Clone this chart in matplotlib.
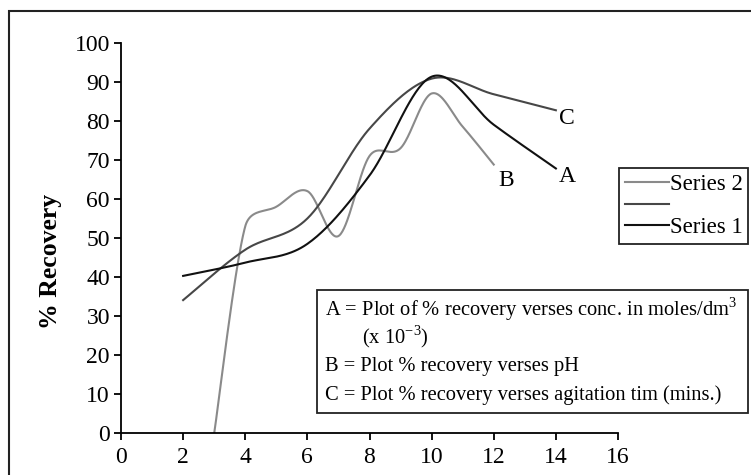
import numpy as np
import matplotlib
matplotlib.use('Agg')
import matplotlib.pyplot as plt
from matplotlib.patches import Rectangle

plt.rcParams['font.family'] = ['Liberation Serif', 'DejaVu Serif']
plt.rcParams['mathtext.fontset'] = 'custom'
plt.rcParams['mathtext.rm'] = 'Liberation Serif'

# data
x_a = [2, 4, 6, 8, 10, 12, 14]
rec_a = [40.3, 43.7, 48.5, 66, 91.3, 79, 67.8]      # A: conc.
x_c = [2, 4, 6, 8, 10, 12, 14]
rec_c = [34.1, 47, 55, 78, 90.8, 86.8, 82.7]        # C: agitation time
x_b = [3, 4, 5, 6, 7, 8, 9, 10, 11, 12]
rec_b = [0, 53, 58, 62, 50.5, 71, 73, 87, 78.5, 68.8]  # B: pH

x_ticks = list(range(0, 17, 2))
y_ticks = list(range(0, 101, 10))

W, H = 751, 475
AX_L, AX_R, AX_T, AX_B = 121, 618, 42.7, 433.3
SX = (AX_R - AX_L) / 16.0     # px per x unit
SY = (AX_B - AX_T) / 100.0    # px per y unit


def smooth(xs, ys, n=40):
    # excel style smoothed line: bezier with arms clamped to half the segment
    p = np.column_stack([xs, ys]).astype(float)
    scale = np.array([SX, SY])

    def d(a, b):
        return np.hypot(*((b - a) * scale))

    out = []
    for i in range(len(p) - 1):
        p0 = p[i - 1] if i > 0 else p[i]
        p1 = p[i]
        p2 = p[i + 1]
        p3 = p[i + 2] if i + 2 < len(p) else p[i + 1]
        d12 = d(p1, p2)
        d02 = d(p0, p2)
        d13 = d(p1, p3)
        f0 = 1 / 6
        f1 = 1 / 6
        if d02 / 6 >= d12 / 2 and d02 > 0:
            f0 = d12 / d02 / 2
        if d13 / 6 >= d12 / 2 and d13 > 0:
            f1 = d12 / d13 / 2
        c1 = p1 + (p2 - p0) * f0
        c2 = p2 - (p3 - p1) * f1
        t = np.linspace(0, 1, n)[:, None]
        seg = ((1 - t) ** 3 * p1 + 3 * (1 - t) ** 2 * t * c1
               + 3 * (1 - t) * t ** 2 * c2 + t ** 3 * p2)
        out.append(seg if i == 0 else seg[1:])
    out = np.vstack(out)
    return out[:, 0], out[:, 1]


fig = plt.figure(figsize=(W / 100, H / 100), dpi=100)
ax = fig.add_axes([AX_L / W, 1 - AX_B / H, (AX_R - AX_L) / W, (AX_B - AX_T) / H])

col_b = '#8a8a8a'
col_c = '#474747'
col_a = '#111111'

xs, ys = smooth(x_b, rec_b)
lb, = ax.plot(xs, ys, color=col_b, lw=1.5)
xs, ys = smooth(x_c, rec_c)
lc, = ax.plot(xs, ys, color=col_c, lw=1.5)
xs, ys = smooth(x_a, rec_a)
la, = ax.plot(xs, ys, color=col_a, lw=1.5)

ax.set_xlim(0, 16)
ax.set_ylim(0, 100)
ax.set_xticks(x_ticks)
ax.set_yticks(y_ticks)
for s in ['top', 'right']:
    ax.spines[s].set_visible(False)
for s in ['left', 'bottom']:
    ax.spines[s].set_linewidth(1.3)
ax.tick_params(direction='out', length=5, width=1.3, labelsize=17, pad=3)
ax.tick_params(axis='x', pad=5)
ax.set_ylabel('% Recovery', fontsize=18.5, fontweight='bold')
ax.yaxis.set_label_coords(-0.118, 0.44)

# curve labels
ax.text(x_c[-1] + 0.1, rec_c[-1] - 2, 'C', fontsize=17, ha='left', va='center')
ax.text(x_a[-1] + 0.1, rec_a[-1] - 2, 'A', fontsize=17, ha='left', va='center')
ax.text(x_b[-1] + 0.15, rec_b[-1] - 4, 'B', fontsize=17, ha='left', va='center')

# outer frame
fig.patches.append(Rectangle((9 / W, -0.1), 1.2, 1 - 11 / H + 0.1, transform=fig.transFigure,
                             fill=False, edgecolor='#222222', lw=1.5))

# note box
fig.patches.append(Rectangle((316.7 / W, 1 - 413.3 / H), 431 / W, 123.3 / H,
                             transform=fig.transFigure, facecolor='white',
                             edgecolor='#222222', lw=1.3, zorder=3))
notes = [(325, 309, 'A = Plot of % recovery verses conc. in moles/dm$^3$'),
         (361.7, 337, '(x 10$^{-3}$)'),
         (325, 366.7, 'B = Plot % recovery verses pH'),
         (325, 395, 'C = Plot % recovery verses agitation tim (mins.)')]
for nx, ny, txt in notes:
    fig.text(nx / W, 1 - ny / H, txt, fontsize=14.8, ha='left', va='center', zorder=4)

leg = fig.legend([lb, lc, la], ['Series 2', '', 'Series 1'],
                 loc='upper left', bbox_to_anchor=(619.3 / W, 1 - 168.3 / H),
                 fontsize=16.5, frameon=True, fancybox=False, edgecolor='#222222',
                 framealpha=1, borderaxespad=0, handlelength=1.9, handletextpad=0.05,
                 labelspacing=0.02, borderpad=0.25)
leg.get_frame().set_linewidth(1.3)

fig.savefig('out.png', dpi=100)
